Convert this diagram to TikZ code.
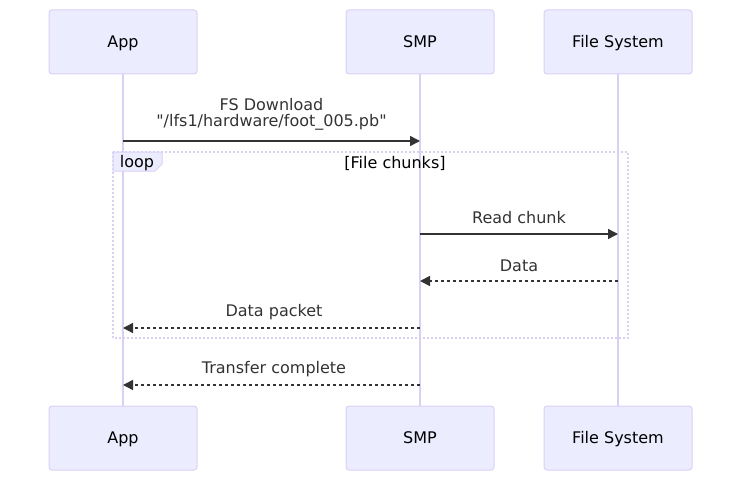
\documentclass[tikz,border=0pt]{standalone}
\usepackage{fontspec}
\setmainfont{DejaVu Sans}[Ligatures=TeXOff]
\usetikzlibrary{arrows.meta}
\definecolor{actfill}{HTML}{ECECFF}
\definecolor{actline}{HTML}{DAD0F3}
\definecolor{msgcol}{HTML}{333333}
\tikzset{
  actor/.style={draw=actline, fill=actfill, line width=1pt, rounded corners=3pt,
    minimum width=148pt, minimum height=64pt, inner sep=0pt, text height=11.6pt, text depth=0pt,
    font=\fontsize{16}{19}\selectfont},
  life/.style={draw=actline, line width=2pt},
  msg/.style={draw=msgcol, line width=1.5pt, -{Triangle[length=10pt,width=10pt]}},
  reply/.style={msg, dash pattern=on 3pt off 3pt},
  lbl/.style={text=msgcol, font=\fontsize{16}{19}\selectfont, inner sep=0pt}
}
\begin{document}
\begin{tikzpicture}[x=1pt, y=-1pt]
			%%%%% START %%%%%
			\useasboundingbox (0, 0) rectangle (750, 487);
			
			% lifelines
			\draw[life] (123, 74) -- (123, 406);
			\draw[life] (420, 74) -- (420, 406);
			\draw[life] (618, 74) -- (618, 406);
			
			% actors, top and bottom
			\node[actor] (appT) at (123, 42) {App};
			\node[actor] (smpT) at (420, 42) {SMP};
			\node[actor] (fsT) at (618, 42) {File System};
			\node[actor] (appB) at (123, 438) {App};
			\node[actor] (smpB) at (420, 438) {SMP};
			\node[actor] (fsB) at (618, 438) {File System};
			
			% loop frame
			\draw[draw=actline, line width=2pt, dash pattern=on 2pt off 2pt] (113, 152) rectangle (628, 338);
			\draw[draw=actline, fill=actfill, line width=1pt] (113, 152) -- (162, 152) -- (162, 164) -- (155, 171) -- (113, 171) -- cycle;
			\node[lbl, text=black] (loopTag) at (137, 163.5) {loop};
			\node[lbl, text=black] (loopCond) at (395, 163.5) {[File chunks]};
			
			% message end points
			\coordinate (app1) at (123, 141);
			\coordinate (smp1) at (420, 141);
			\coordinate (smp2) at (420, 234);
			\coordinate (fs2) at (618, 234);
			\coordinate (fs3) at (618, 281);
			\coordinate (smp3) at (420, 281);
			\coordinate (smp4) at (420, 328);
			\coordinate (app4) at (123, 328);
			\coordinate (smp5) at (420, 385);
			\coordinate (app5) at (123, 385);
			
			% messages
			\draw[msg] (app1) -- (smp1);
			\node[lbl] (m1a) at (271.5, 104.5) {FS Download};
			\node[lbl] (m1b) at (271.5, 122.5) {"/lfs1/hardware/foot\_005.pb"};
			
			\draw[msg] (smp2) -- (fs2);
			\node[lbl] (m2) at (519, 217.5) {Read chunk};
			
			\draw[reply] (fs3) -- (smp3);
			\node[lbl] (m3) at (519, 265.5) {Data};
			
			\draw[reply] (smp4) -- (app4);
			\node[lbl] (m4) at (274, 312.5) {Data packet};
			
			\draw[reply] (smp5) -- (app5);
			\node[lbl] (m5) at (274, 369.5) {Transfer complete};
			
			%%%%% END %%%%%
\end{tikzpicture}
\end{document}
